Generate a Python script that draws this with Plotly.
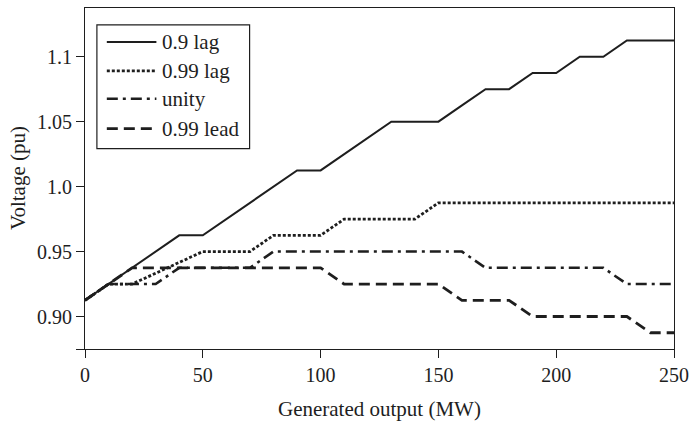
import plotly.graph_objects as go

# ---- data ----
mw = [0, 10, 20, 30, 40, 50, 60, 70, 80, 90, 100, 110, 120, 130, 140, 150,
      160, 170, 180, 190, 200, 210, 220, 230, 240, 250]
lag_09 = [0.9125, 0.925, 0.9375, 0.95, 0.9625, 0.9625, 0.975, 0.9875, 1.0, 1.0125,
          1.0125, 1.025, 1.0375, 1.05, 1.05, 1.05, 1.0625, 1.075, 1.075, 1.0875,
          1.0875, 1.1, 1.1, 1.1125, 1.1125, 1.1125]
lag_099 = [0.9125, 0.925, 0.925, 0.9333, 0.9417, 0.95, 0.95, 0.95, 0.9625, 0.9625,
           0.9625, 0.975, 0.975, 0.975, 0.975, 0.9875, 0.9875, 0.9875, 0.9875, 0.9875,
           0.9875, 0.9875, 0.9875, 0.9875, 0.9875, 0.9875]
unity = [0.9125, 0.925, 0.925, 0.925, 0.9375, 0.9375, 0.9375, 0.9375, 0.95, 0.95,
         0.95, 0.95, 0.95, 0.95, 0.95, 0.95, 0.95, 0.9375, 0.9375, 0.9375,
         0.9375, 0.9375, 0.9375, 0.925, 0.925, 0.925]
lead_099 = [0.9125, 0.925, 0.9375, 0.9375, 0.9375, 0.9375, 0.9375, 0.9375, 0.9375, 0.9375,
            0.9375, 0.925, 0.925, 0.925, 0.925, 0.925, 0.9125, 0.9125, 0.9125, 0.9,
            0.9, 0.9, 0.9, 0.9, 0.8875, 0.8875]

series_names = ["0.9 lag", "0.99 lag", "unity", "0.99 lead"]
x_ticks = [0, 50, 100, 150, 200, 250]
y_ticks = [0.875, 0.90, 0.95, 1.0, 1.05, 1.1]
y_ticktext = ["", "0.90", "0.95", "1.0", "1.05", "1.1"]

# ---- styles ----
INK = "#1e1e1e"
FONT = "Liberation Serif"
styles = [
    dict(width=2, dash="solid"),
    dict(width=2.8, dash="3px,2px"),
    dict(width=2.6, dash="11px,5px,3px,5px"),
    dict(width=2.8, dash="11px,6px"),
]

fig = go.Figure()
for name, ys, st in zip(series_names, [lag_09, lag_099, unity, lead_099], styles):
    fig.add_trace(go.Scatter(x=mw, y=ys, mode="lines", name=name,
                             line=dict(color=INK, width=st["width"], dash=st["dash"]),
                             showlegend=False, hoverinfo="skip"))

# plot area in pixels (for placing the custom legend)
L, R, T, B = 85, 679, 7, 349
W, H = R - L, B - T
def px(xp):
    return (xp - L) / W
def py(yp):
    return (B - yp) / H

shapes = [dict(type="rect", xref="paper", yref="paper",
               x0=px(97), x1=px(251), y0=py(148), y1=py(24),
               line=dict(color=INK, width=1.2), fillcolor="white", layer="above")]
annotations = []
legend_y = [41, 70, 98, 128]
for name, st, ly in zip(series_names, styles, legend_y):
    shapes.append(dict(type="line", xref="paper", yref="paper",
                       x0=px(107), x1=px(157), y0=py(ly), y1=py(ly),
                       line=dict(color=INK, width=st["width"], dash=st["dash"]),
                       layer="above"))
    annotations.append(dict(xref="paper", yref="paper", x=px(161), y=py(ly),
                            xanchor="left", yanchor="middle", showarrow=False,
                            text=name, font=dict(family=FONT, size=21, color=INK)))

annotations.append(dict(xref="paper", yref="paper", x=0.5, y=py(409),
                        xanchor="center", yanchor="middle", showarrow=False,
                        text="Generated output (MW)",
                        font=dict(family=FONT, size=21, color=INK)))
annotations.append(dict(xref="paper", yref="paper", x=px(17), y=0.5,
                        xanchor="center", yanchor="middle", showarrow=False,
                        textangle=-90, text="Voltage (pu)",
                        font=dict(family=FONT, size=21, color=INK)))

fig.update_layout(
    width=696, height=422,
    margin=dict(l=L, r=696 - R, t=T, b=422 - B),
    paper_bgcolor="white", plot_bgcolor="white",
    font=dict(family=FONT, size=20, color=INK),
    shapes=shapes, annotations=annotations,
    xaxis=dict(range=[0, 250], tickvals=x_ticks, ticks="outside", ticklen=8,
               tickwidth=1.2, tickcolor=INK, showline=True, linecolor=INK,
               linewidth=1.2, mirror=True, showgrid=False, zeroline=False,
               tickfont=dict(family=FONT, size=20, color=INK)),
    yaxis=dict(range=[0.875, 1.1375], tickvals=y_ticks, ticktext=y_ticktext,
               ticks="outside", ticklen=8, tickwidth=1.2, tickcolor=INK,
               showline=True, linecolor=INK, linewidth=1.2, mirror=True,
               showgrid=False, zeroline=False,
               tickfont=dict(family=FONT, size=20, color=INK)),
)

fig.write_html("out.html", config={"displayModeBar": False},
               post_script="document.body.style.margin='0';document.body.style.overflow='hidden';")
